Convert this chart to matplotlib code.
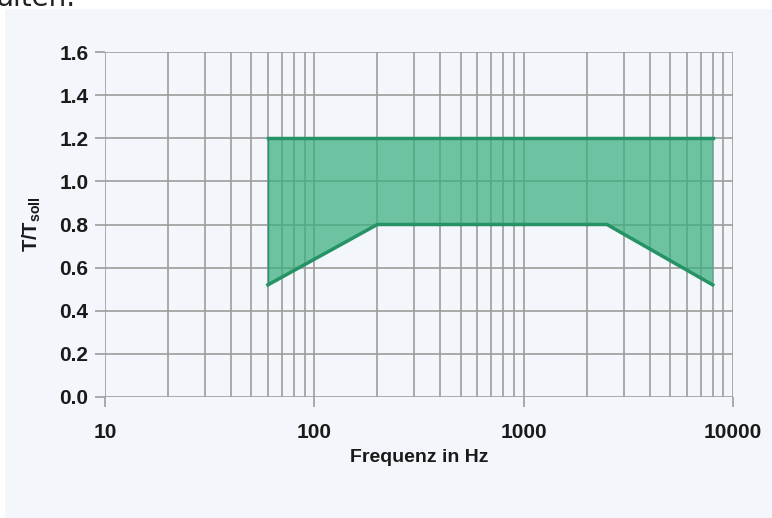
import matplotlib.pyplot as plt
import numpy as np
from matplotlib.patches import Rectangle

plt.rcParams["font.family"] = ["Liberation Sans", "DejaVu Sans"]
plt.rcParams["mathtext.fontset"] = "custom"
plt.rcParams["mathtext.bf"] = "Liberation Sans:bold"
plt.rcParams["mathtext.rm"] = "Liberation Sans:bold"

# tolerance band (frequency in Hz, T/T_soll)
freq_upper = [60, 8000]
upper = [1.2, 1.2]
freq_lower = [60, 200, 2500, 8000]
lower = [0.52, 0.8, 0.8, 0.52]

x_ticks = [10, 100, 1000, 10000]
x_ticklabels = ["10", "100", "1000", "10000"]
y_ticks = [0.0, 0.2, 0.4, 0.6, 0.8, 1.0, 1.2, 1.4, 1.6]

bg = "#f3f6fa"
grid_col = "#9c9c9c"
fill_col = "#3aaf7f"
line_col = "#259366"

fig = plt.figure(figsize=(7.72, 5.18), dpi=100)
fig.patch.set_facecolor(bg)
# white page strip at top and left edge
fig.patches.append(Rectangle((0, 1 - 9 / 518), 1, 9 / 518, transform=fig.transFigure,
                             facecolor="white", edgecolor="none"))
fig.patches.append(Rectangle((0, 0), 5 / 772, 1, transform=fig.transFigure,
                             facecolor="white", edgecolor="none"))
fig.text(-0.005, 1 - 6 / 518, "alten.", fontsize=20, va="baseline", ha="left",
         family="DejaVu Sans", color="#222222")

ax = fig.add_axes([105 / 772, 1 - 397 / 518, 628 / 772, 345 / 518])
ax.set_facecolor(bg)
ax.set_xscale("log")
ax.set_xlim(10, 10000)
ax.set_ylim(0, 1.6)

ax.grid(True, which="both", axis="x", color=grid_col, linewidth=1.2, zorder=1)
ax.grid(True, which="major", axis="y", color=grid_col, linewidth=1.2, zorder=1)
ax.set_axisbelow(True)
for s in ax.spines.values():
    s.set_visible(False)

# band
fx = np.array(freq_lower)
ax.fill_between(fx, lower, np.interp(np.log10(fx), np.log10(freq_upper), upper),
                color=fill_col, alpha=0.72, linewidth=0, zorder=2)
ax.plot(freq_upper, upper, color=line_col, linewidth=2.5, zorder=3)
ax.plot(freq_lower, lower, color=line_col, linewidth=2.5, zorder=3)
ax.plot([60, 60], [lower[0], upper[0]], color=line_col, linewidth=1.0, zorder=3)

ax.set_xticks(x_ticks)
ax.set_xticklabels(x_ticklabels)
ax.set_yticks(y_ticks)
ax.set_yticklabels([f"{v:.1f}" for v in y_ticks])
ax.tick_params(axis="both", which="major", length=7, width=1.2, color=grid_col,
               labelsize=15, labelcolor="#1a1a1a")
ax.tick_params(axis="x", which="major", pad=12)
ax.tick_params(axis="y", which="major", pad=5)
ax.tick_params(axis="x", which="minor", length=0)
for lab in ax.get_xticklabels() + ax.get_yticklabels():
    lab.set_fontweight("bold")

ax.set_xlabel("Frequenz in Hz", fontsize=14, fontweight="bold", color="#1a1a1a", labelpad=5)
ax.set_ylabel(r"$\mathbf{T/T_{soll}}$", fontsize=14.5, color="#1a1a1a", labelpad=12)

fig.savefig("out.png", dpi=100, facecolor=fig.get_facecolor())
